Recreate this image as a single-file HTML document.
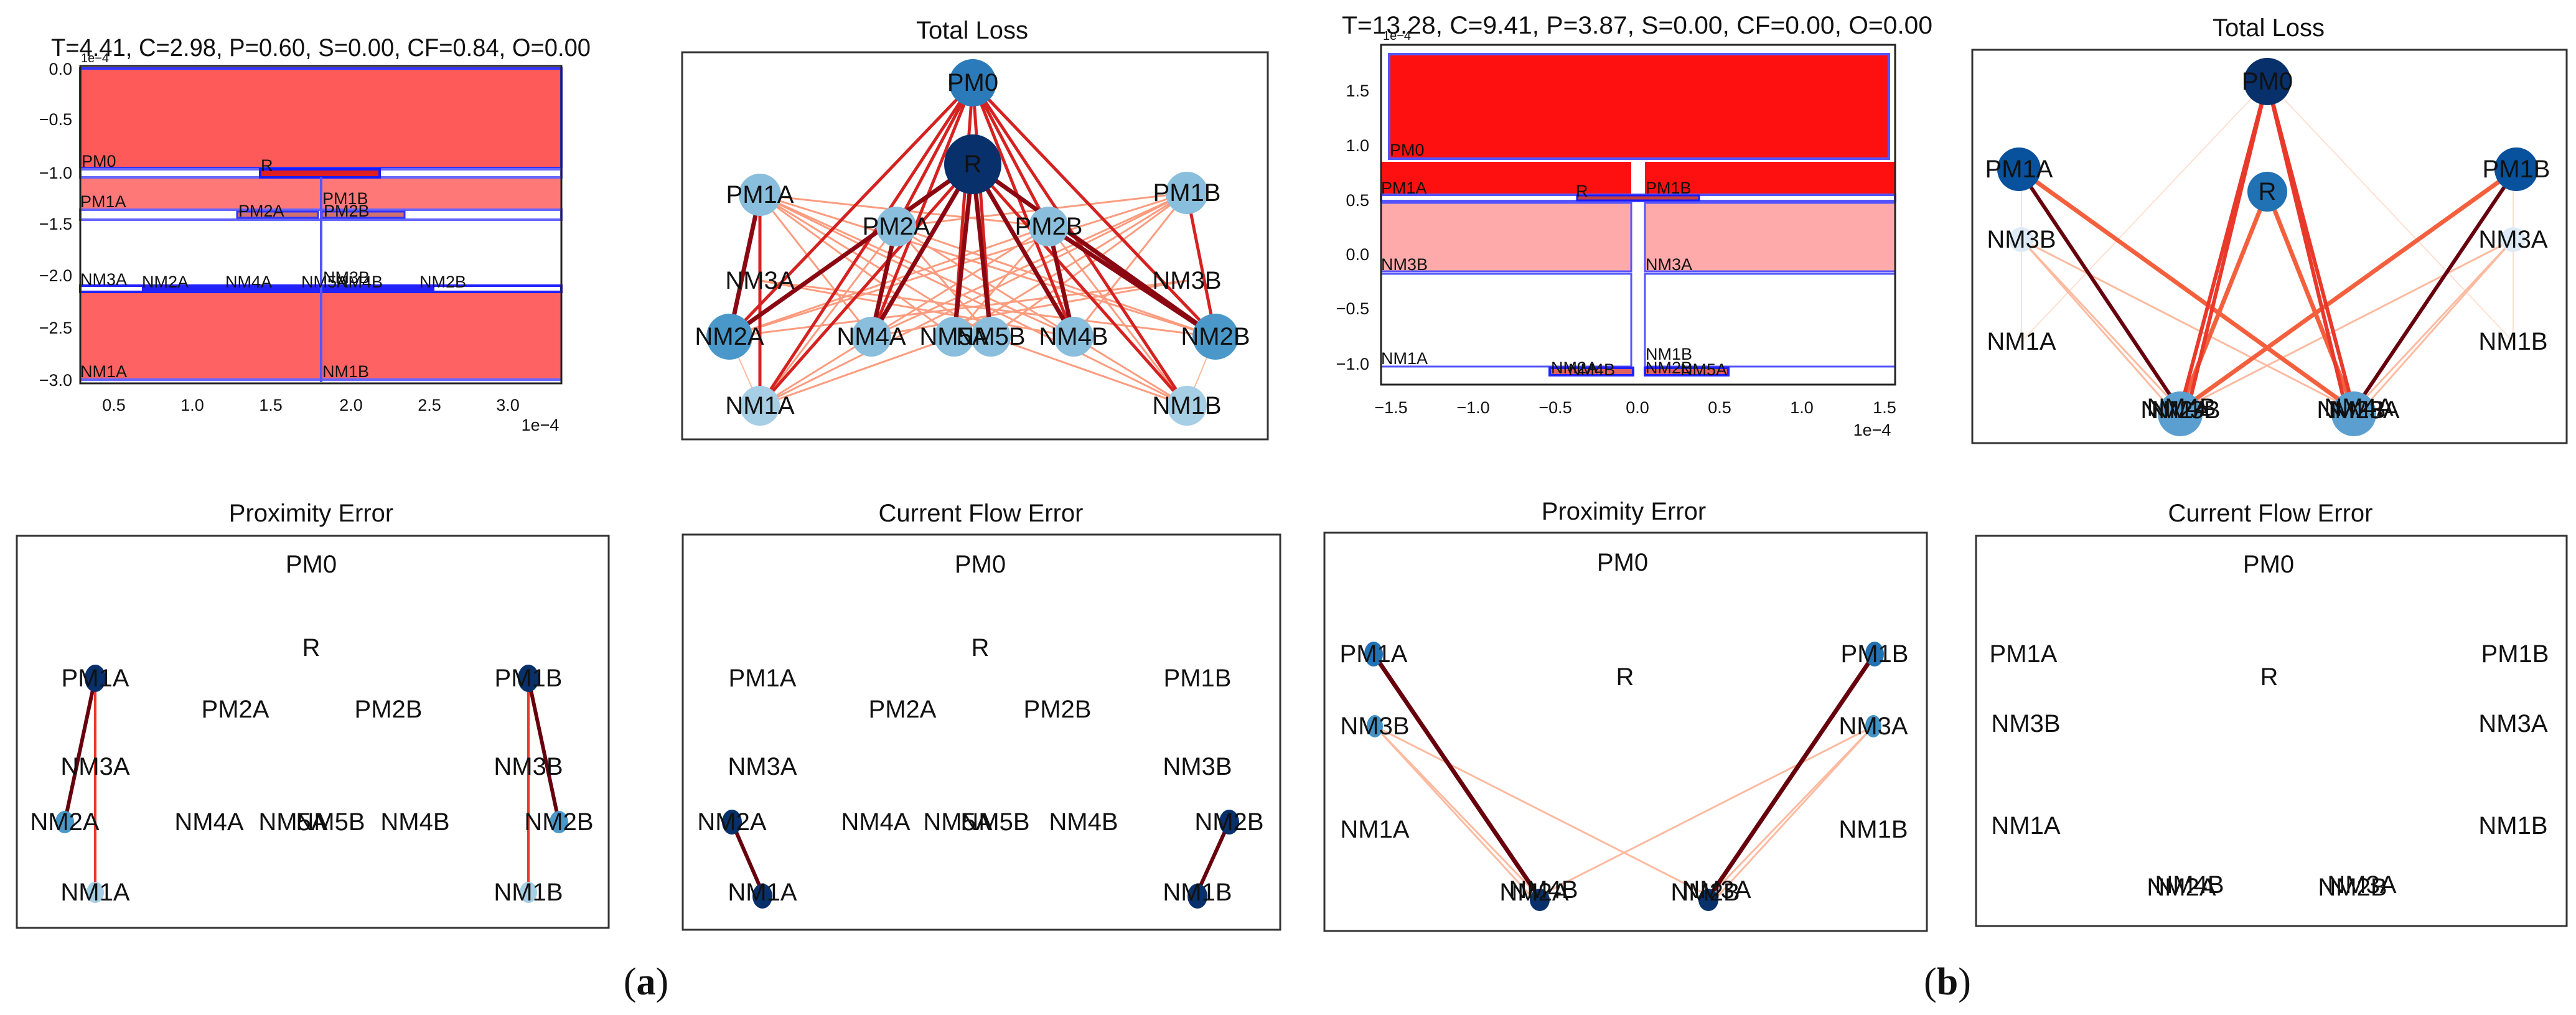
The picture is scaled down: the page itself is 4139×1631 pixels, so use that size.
<!DOCTYPE html>
<html><head><meta charset="utf-8"><style>
html,body{margin:0;padding:0;background:#fff;}
svg{display:block;}
text{font-family:"Liberation Sans",sans-serif;fill:#111;}
.t{font-size:40px;}
.lb{font-size:40px;text-anchor:middle;dominant-baseline:central;}
.sl{font-size:27px;}
.tk{font-size:27px;}
.cap{font-family:"Liberation Serif",serif;font-size:62px;text-anchor:middle;}
</style></head><body>
<svg width="4139" height="1631" viewBox="0 0 4139 1631" xmlns="http://www.w3.org/2000/svg">
<rect width="4139" height="1631" fill="#fff"/>

<!-- ===== Panel 1: layout (a) ===== -->
<text x="82" y="90" class="t" font-size="36" textLength="867" lengthAdjust="spacingAndGlyphs">T=4.41, C=2.98, P=0.60, S=0.00, CF=0.84, O=0.00</text>
<text x="130" y="100" font-size="20">1e−4</text>
<rect x="129" y="110" width="773" height="160" fill="#ff5a5a" stroke="#3333ff" stroke-width="4"/>
<rect x="129" y="272" width="773" height="13" fill="#fff" stroke="#6666ff" stroke-width="4"/>
<rect x="418" y="272" width="192" height="13" fill="#e02020" stroke="#1a1aff" stroke-width="4"/>
<rect x="129" y="287" width="386" height="49" fill="#ff7878"/>
<rect x="517" y="287" width="385" height="49" fill="#ff7878"/>
<rect x="129" y="337" width="773" height="16" fill="#fff" stroke="#6666ff" stroke-width="4"/>
<rect x="381" y="340" width="130" height="10" fill="#d07070" stroke="#3333ff" stroke-width="3"/>
<rect x="517" y="340" width="133" height="10" fill="#d07070" stroke="#3333ff" stroke-width="3"/>
<rect x="129" y="459" width="773" height="10" fill="#fff" stroke="#2222ff" stroke-width="4"/>
<rect x="228" y="461" width="470" height="6" fill="#2222ff"/>
<rect x="129" y="471" width="386" height="139" fill="#ff6262"/>
<rect x="517" y="471" width="385" height="139" fill="#ff6262"/>
<line x1="129" y1="610" x2="902" y2="610" stroke="#6666ff" stroke-width="4"/>
<line x1="516" y1="285" x2="516" y2="614" stroke="#5555ff" stroke-width="4"/>
<rect x="129" y="106" width="773" height="510" fill="none" stroke="#222" stroke-width="3"/>
<g class="tk" text-anchor="end">
<text x="116" y="120">0.0</text><text x="116" y="201">−0.5</text><text x="116" y="287">−1.0</text>
<text x="116" y="369">−1.5</text><text x="116" y="452">−2.0</text><text x="116" y="536">−2.5</text><text x="116" y="620">−3.0</text>
</g>
<g class="tk" text-anchor="middle">
<text x="183" y="660">0.5</text><text x="309" y="660">1.0</text><text x="435" y="660">1.5</text>
<text x="564" y="660">2.0</text><text x="690" y="660">2.5</text><text x="816" y="660">3.0</text>
<text x="868" y="692">1e−4</text>
</g>
<g class="sl">
<text x="131" y="268">PM0</text><text x="419" y="275">R</text>
<text x="129" y="333">PM1A</text><text x="518" y="328">PM1B</text>
<text x="383" y="348">PM2A</text><text x="520" y="348">PM2B</text>
<text x="129" y="458">NM3A</text><text x="228" y="462">NM2A</text><text x="362" y="462">NM4A</text>
<text x="484" y="462">NM5A</text><text x="519" y="455">NM3B</text><text x="540" y="462">NM4B</text><text x="674" y="462">NM2B</text>
<text x="129" y="606">NM1A</text><text x="518" y="606">NM1B</text>
</g>

<!-- ===== Panel 2: Total Loss (a) ===== -->
<text x="1562" y="62" class="t" text-anchor="middle">Total Loss</text>
<rect x="1096" y="84" width="941" height="622" fill="none" stroke="#333" stroke-width="3"/>
<g stroke-linecap="round">
<!-- salmon edges -->
<g stroke="#fc9272" stroke-width="3" opacity="0.9">
<line x1="1221" y1="313" x2="1685" y2="364"/><line x1="1221" y1="313" x2="1400" y2="541"/><line x1="1221" y1="313" x2="1533" y2="541"/>
<line x1="1221" y1="313" x2="1592" y2="541"/><line x1="1221" y1="313" x2="1725" y2="541"/><line x1="1221" y1="313" x2="1953" y2="541"/><line x1="1221" y1="313" x2="1907" y2="652"/>
<line x1="1907" y1="310" x2="1440" y2="364"/><line x1="1907" y1="310" x2="1725" y2="541"/><line x1="1907" y1="310" x2="1592" y2="541"/>
<line x1="1907" y1="310" x2="1533" y2="541"/><line x1="1907" y1="310" x2="1400" y2="541"/><line x1="1907" y1="310" x2="1172" y2="541"/><line x1="1907" y1="310" x2="1221" y2="652"/>
<line x1="1172" y1="541" x2="1685" y2="364"/><line x1="1172" y1="541" x2="1907" y2="451"/><line x1="1953" y1="541" x2="1440" y2="364"/><line x1="1953" y1="541" x2="1221" y2="451"/>
<line x1="1221" y1="652" x2="1400" y2="541"/><line x1="1221" y1="652" x2="1533" y2="541"/><line x1="1221" y1="652" x2="1440" y2="364"/>
<line x1="1907" y1="652" x2="1725" y2="541"/><line x1="1907" y1="652" x2="1592" y2="541"/><line x1="1907" y1="652" x2="1685" y2="364"/>
<line x1="1440" y1="364" x2="1725" y2="541"/><line x1="1685" y1="364" x2="1400" y2="541"/><line x1="1440" y1="364" x2="1592" y2="541"/><line x1="1685" y1="364" x2="1533" y2="541"/>
<line x1="1221" y1="451" x2="1725" y2="541"/><line x1="1907" y1="451" x2="1400" y2="541"/>
</g>
<g stroke="#fcbba1" stroke-width="2">
<line x1="1172" y1="541" x2="1221" y2="652"/><line x1="1953" y1="541" x2="1907" y2="652"/>
</g>
<!-- red edges -->
<g stroke="#d52221" stroke-width="5">
<line x1="1563" y1="133" x2="1172" y2="541"/><line x1="1563" y1="133" x2="1400" y2="541"/><line x1="1563" y1="133" x2="1221" y2="652"/>
<line x1="1563" y1="133" x2="1953" y2="541"/><line x1="1563" y1="133" x2="1725" y2="541"/><line x1="1563" y1="133" x2="1907" y2="652"/>
<line x1="1563" y1="133" x2="1533" y2="541"/><line x1="1563" y1="133" x2="1592" y2="541"/><line x1="1563" y1="133" x2="1440" y2="364"/><line x1="1563" y1="133" x2="1685" y2="364"/>
<line x1="1563" y1="264" x2="1221" y2="652"/><line x1="1563" y1="264" x2="1907" y2="652"/>
<line x1="1221" y1="313" x2="1221" y2="652"/><line x1="1907" y1="310" x2="1953" y2="541"/>
</g>
<!-- dark edges -->
<g stroke="#8b0812" stroke-width="7">
<line x1="1563" y1="264" x2="1172" y2="541"/><line x1="1563" y1="264" x2="1953" y2="541"/>
<line x1="1563" y1="264" x2="1400" y2="541"/><line x1="1563" y1="264" x2="1725" y2="541"/>
<line x1="1563" y1="264" x2="1533" y2="541"/><line x1="1563" y1="264" x2="1592" y2="541"/>
<line x1="1685" y1="364" x2="1953" y2="541"/><line x1="1440" y1="364" x2="1400" y2="541"/><line x1="1685" y1="364" x2="1725" y2="541"/>
<line x1="1221" y1="313" x2="1172" y2="541"/>
</g>
</g>
<g>
<circle cx="1563" cy="133" r="38" fill="#2b7bba"/>
<ellipse cx="1563" cy="264" rx="46" ry="48" fill="#08306b"/>
<circle cx="1221" cy="313" r="34" fill="#89bedc"/><circle cx="1907" cy="310" r="34" fill="#89bedc"/>
<circle cx="1440" cy="364" r="32" fill="#89bedc"/><circle cx="1685" cy="364" r="32" fill="#89bedc"/>
<circle cx="1172" cy="541" r="37" fill="#4a98c9"/><circle cx="1953" cy="541" r="37" fill="#4a98c9"/>
<circle cx="1400" cy="541" r="32" fill="#89bedc"/><circle cx="1533" cy="541" r="32" fill="#89bedc"/>
<circle cx="1592" cy="541" r="32" fill="#89bedc"/><circle cx="1725" cy="541" r="32" fill="#89bedc"/>
<circle cx="1221" cy="652" r="32" fill="#a6cee4"/><circle cx="1907" cy="652" r="32" fill="#a6cee4"/>
</g>
<g class="lb">
<text x="1563" y="133">PM0</text><text x="1563" y="264">R</text>
<text x="1221" y="313">PM1A</text><text x="1907" y="310">PM1B</text>
<text x="1440" y="364">PM2A</text><text x="1685" y="364">PM2B</text>
<text x="1221" y="451">NM3A</text><text x="1907" y="451">NM3B</text>
<text x="1172" y="541">NM2A</text><text x="1400" y="541">NM4A</text><text x="1533" y="541">NM5A</text>
<text x="1592" y="541">NM5B</text><text x="1725" y="541">NM4B</text><text x="1953" y="541">NM2B</text>
<text x="1221" y="652">NM1A</text><text x="1907" y="652">NM1B</text>
</g>

<!-- ===== Panel 3: layout (b) ===== -->
<text x="2156" y="54" class="t" font-size="36" textLength="949" lengthAdjust="spacingAndGlyphs">T=13.28, C=9.41, P=3.87, S=0.00, CF=0.00, O=0.00</text>
<text x="2222" y="64" font-size="20">1e−4</text>
<rect x="2232" y="87" width="803" height="168" fill="#ff1010" stroke="#5555ff" stroke-width="4"/>
<rect x="2219" y="260" width="402" height="53" fill="#ff1010"/>
<rect x="2643" y="260" width="402" height="53" fill="#ff1010"/>
<rect x="2219" y="313" width="826" height="10" fill="#fff" stroke="#5555ff" stroke-width="4"/>
<rect x="2534" y="314" width="196" height="8" fill="#c04040" stroke="#1a1aff" stroke-width="3"/>
<rect x="2219" y="326" width="402" height="110" fill="#ffaaaa" stroke="#5555ff" stroke-width="3"/>
<rect x="2643" y="326" width="402" height="110" fill="#ffaaaa" stroke="#5555ff" stroke-width="3"/>
<rect x="2219" y="440" width="402" height="149" fill="#fff" stroke="#5555ff" stroke-width="3"/>
<rect x="2643" y="440" width="402" height="149" fill="#fff" stroke="#5555ff" stroke-width="3"/>
<rect x="2490" y="591" width="134" height="12" fill="#e06060" stroke="#2222ff" stroke-width="4"/>
<rect x="2643" y="591" width="134" height="12" fill="#e06060" stroke="#2222ff" stroke-width="4"/>
<rect x="2219" y="72" width="826" height="546" fill="none" stroke="#222" stroke-width="3"/>
<g class="tk" text-anchor="end">
<text x="2200" y="155">1.5</text><text x="2200" y="243">1.0</text><text x="2200" y="331">0.5</text>
<text x="2200" y="418">0.0</text><text x="2200" y="505">−0.5</text><text x="2200" y="594">−1.0</text>
</g>
<g class="tk" text-anchor="middle">
<text x="2235" y="664">−1.5</text><text x="2367" y="664">−1.0</text><text x="2499" y="664">−0.5</text><text x="2631" y="664">0.0</text>
<text x="2763" y="664">0.5</text><text x="2895" y="664">1.0</text><text x="3028" y="664">1.5</text>
<text x="3008" y="700">1e−4</text>
</g>
<g class="sl">
<text x="2233" y="250">PM0</text><text x="2219" y="311">PM1A</text><text x="2532" y="316">R</text><text x="2644" y="311">PM1B</text>
<text x="2219" y="434">NM3B</text><text x="2644" y="434">NM3A</text>
<text x="2219" y="585">NM1A</text><text x="2644" y="578">NM1B</text>
<text x="2492" y="600">NM2A</text><text x="2520" y="603">NM4B</text><text x="2644" y="600">NM2B</text><text x="2700" y="603">NM5A</text>
</g>

<!-- ===== Panel 4: Total Loss (b) ===== -->
<text x="3645" y="58" class="t" text-anchor="middle">Total Loss</text>
<rect x="3169" y="80" width="955" height="632" fill="none" stroke="#333" stroke-width="3"/>
<g stroke-linecap="round">
<g stroke="#fee0d2" stroke-width="2">
<line x1="3643" y1="131" x2="3248" y2="549"/><line x1="3643" y1="131" x2="4038" y2="549"/>
<line x1="3248" y1="272" x2="3248" y2="549"/><line x1="4038" y1="272" x2="4038" y2="549"/>
</g>
<g stroke="#fcbba1" stroke-width="3">
<line x1="3248" y1="385" x2="3782" y2="659"/><line x1="3248" y1="385" x2="3503" y2="659"/><line x1="3248" y1="385" x2="3490" y2="659"/>
<line x1="4038" y1="385" x2="3503" y2="659"/><line x1="4038" y1="385" x2="3782" y2="659"/><line x1="4038" y1="385" x2="3795" y2="659"/>
</g>
<g stroke="#f4603e" stroke-width="7">
<line x1="3244" y1="272" x2="3782" y2="659"/><line x1="4043" y1="272" x2="3503" y2="659"/>
<line x1="3643" y1="308" x2="3503" y2="659"/><line x1="3643" y1="308" x2="3782" y2="659"/>
</g>
<g stroke="#e8392b" stroke-width="6">
<line x1="3643" y1="131" x2="3503" y2="659"/><line x1="3643" y1="131" x2="3782" y2="659"/>
<line x1="3643" y1="131" x2="3515" y2="659"/><line x1="3643" y1="131" x2="3770" y2="659"/>
</g>
<g stroke="#67000d" stroke-width="6">
<line x1="3244" y1="272" x2="3503" y2="659"/><line x1="4043" y1="272" x2="3782" y2="659"/>
</g>
</g>
<g>
<circle cx="3643" cy="131" r="38" fill="#08306b"/>
<circle cx="3643" cy="308" r="32" fill="#2171b5"/>
<circle cx="3244" cy="272" r="35" fill="#08519c"/><circle cx="4043" cy="272" r="35" fill="#08519c"/>
<circle cx="3248" cy="385" r="20" fill="#deebf7"/><circle cx="4038" cy="385" r="20" fill="#deebf7"/>
<circle cx="3503" cy="665" r="36" fill="#5a9fd0"/><circle cx="3782" cy="665" r="36" fill="#5a9fd0"/>
</g>
<g class="lb">
<text x="3643" y="131">PM0</text><text x="3643" y="308">R</text>
<text x="3244" y="272">PM1A</text><text x="4043" y="272">PM1B</text>
<text x="3248" y="385">NM3B</text><text x="4038" y="385">NM3A</text>
<text x="3248" y="549">NM1A</text><text x="4038" y="549">NM1B</text>
<text x="3495" y="659">NM2A</text><text x="3505" y="655">NM4B</text><text x="3512" y="659">NM3B</text>
<text x="3778" y="659">NM2B</text><text x="3790" y="655">NM4A</text><text x="3800" y="659">NM3A</text>
</g>

<!-- ===== Panel 5: Proximity Error (a) ===== -->
<text x="500" y="838" class="t" text-anchor="middle">Proximity Error</text>
<rect x="27" y="861" width="951" height="630" fill="none" stroke="#333" stroke-width="3"/>
<g stroke-linecap="round">
<line x1="153" y1="1090" x2="153" y2="1434" stroke="#e8392b" stroke-width="4"/>
<line x1="849" y1="1090" x2="849" y2="1434" stroke="#e8392b" stroke-width="4"/>
<line x1="153" y1="1090" x2="104" y2="1321" stroke="#67000d" stroke-width="6"/>
<line x1="849" y1="1090" x2="898" y2="1321" stroke="#67000d" stroke-width="6"/>
</g>
<ellipse cx="153" cy="1090" rx="17" ry="22" fill="#08306b"/><ellipse cx="849" cy="1090" rx="17" ry="22" fill="#08306b"/>
<ellipse cx="104" cy="1321" rx="15" ry="18" fill="#4a98c9"/><ellipse cx="898" cy="1321" rx="15" ry="18" fill="#4a98c9"/>
<ellipse cx="153" cy="1434" rx="14" ry="17" fill="#a6cee4"/><ellipse cx="849" cy="1434" rx="14" ry="17" fill="#a6cee4"/>
<g class="lb">
<text x="500" y="907">PM0</text><text x="500" y="1041">R</text>
<text x="153" y="1090">PM1A</text><text x="849" y="1090">PM1B</text>
<text x="378" y="1140">PM2A</text><text x="624" y="1140">PM2B</text>
<text x="153" y="1232">NM3A</text><text x="849" y="1232">NM3B</text>
<text x="104" y="1321">NM2A</text><text x="336" y="1321">NM4A</text><text x="471" y="1321">NM5A</text>
<text x="531" y="1321">NM5B</text><text x="667" y="1321">NM4B</text><text x="898" y="1321">NM2B</text>
<text x="153" y="1434">NM1A</text><text x="849" y="1434">NM1B</text>
</g>

<!-- ===== Panel 6: Current Flow Error (a) ===== -->
<text x="1576" y="838" class="t" text-anchor="middle">Current Flow Error</text>
<rect x="1097" y="859" width="960" height="635" fill="none" stroke="#333" stroke-width="3"/>
<line x1="1176" y1="1321" x2="1225" y2="1434" stroke="#67000d" stroke-width="6"/>
<line x1="1975" y1="1321" x2="1924" y2="1434" stroke="#67000d" stroke-width="6"/>
<ellipse cx="1176" cy="1321" rx="16" ry="20" fill="#08306b"/><ellipse cx="1975" cy="1321" rx="16" ry="20" fill="#08306b"/>
<ellipse cx="1225" cy="1440" rx="16" ry="20" fill="#08306b"/><ellipse cx="1924" cy="1440" rx="16" ry="20" fill="#08306b"/>
<g class="lb">
<text x="1575" y="907">PM0</text><text x="1575" y="1041">R</text>
<text x="1225" y="1090">PM1A</text><text x="1924" y="1090">PM1B</text>
<text x="1450" y="1140">PM2A</text><text x="1699" y="1140">PM2B</text>
<text x="1225" y="1232">NM3A</text><text x="1924" y="1232">NM3B</text>
<text x="1176" y="1321">NM2A</text><text x="1407" y="1321">NM4A</text><text x="1539" y="1321">NM5A</text>
<text x="1599" y="1321">NM5B</text><text x="1741" y="1321">NM4B</text><text x="1975" y="1321">NM2B</text>
<text x="1225" y="1434">NM1A</text><text x="1924" y="1434">NM1B</text>
</g>
<text x="1038" y="1598" class="cap">(<tspan font-weight="bold">a</tspan>)</text>

<!-- ===== Panel 7: Proximity Error (b) ===== -->
<text x="2609" y="835" class="t" text-anchor="middle">Proximity Error</text>
<rect x="2128" y="856" width="968" height="640" fill="none" stroke="#333" stroke-width="3"/>
<g stroke-linecap="round">
<g stroke="#fcbba1" stroke-width="3">
<line x1="2209" y1="1167" x2="2747" y2="1440"/><line x1="2209" y1="1167" x2="2472" y2="1440"/><line x1="2209" y1="1167" x2="2460" y2="1440"/>
<line x1="3010" y1="1167" x2="2472" y2="1440"/><line x1="3010" y1="1167" x2="2747" y2="1440"/><line x1="3010" y1="1167" x2="2760" y2="1440"/>
</g>
<line x1="2207" y1="1051" x2="2472" y2="1440" stroke="#67000d" stroke-width="7"/>
<line x1="3012" y1="1051" x2="2747" y2="1440" stroke="#67000d" stroke-width="7"/>
</g>
<ellipse cx="2207" cy="1051" rx="15" ry="20" fill="#2171b5"/><ellipse cx="3012" cy="1051" rx="15" ry="20" fill="#2171b5"/>
<ellipse cx="2209" cy="1167" rx="13" ry="18" fill="#4292c6"/><ellipse cx="3010" cy="1167" rx="13" ry="18" fill="#4292c6"/>
<ellipse cx="2474" cy="1446" rx="16" ry="18" fill="#08306b"/><ellipse cx="2745" cy="1446" rx="16" ry="18" fill="#08306b"/>
<g class="lb">
<text x="2607" y="904">PM0</text><text x="2611" y="1088">R</text>
<text x="2207" y="1051">PM1A</text><text x="3012" y="1051">PM1B</text>
<text x="2209" y="1167">NM3B</text><text x="3010" y="1167">NM3A</text>
<text x="2209" y="1333">NM1A</text><text x="3010" y="1333">NM1B</text>
<text x="2465" y="1434">NM2A</text><text x="2480" y="1430">NM4B</text>
<text x="2740" y="1434">NM2B</text><text x="2758" y="1430">NM3A</text>
</g>

<!-- ===== Panel 8: Current Flow Error (b) ===== -->
<text x="3648" y="838" class="t" text-anchor="middle">Current Flow Error</text>
<rect x="3175" y="861" width="949" height="627" fill="none" stroke="#333" stroke-width="3"/>
<g class="lb">
<text x="3645" y="907">PM0</text><text x="3646" y="1088">R</text>
<text x="3251" y="1051">PM1A</text><text x="4041" y="1051">PM1B</text>
<text x="3255" y="1163">NM3B</text><text x="4038" y="1163">NM3A</text>
<text x="3255" y="1327">NM1A</text><text x="4038" y="1327">NM1B</text>
<text x="3505" y="1426">NM2A</text><text x="3518" y="1422">NM4B</text>
<text x="3780" y="1426">NM2B</text><text x="3795" y="1422">NM3A</text>
</g>
<text x="3129" y="1598" class="cap">(<tspan font-weight="bold">b</tspan>)</text>
</svg>
</body></html>
